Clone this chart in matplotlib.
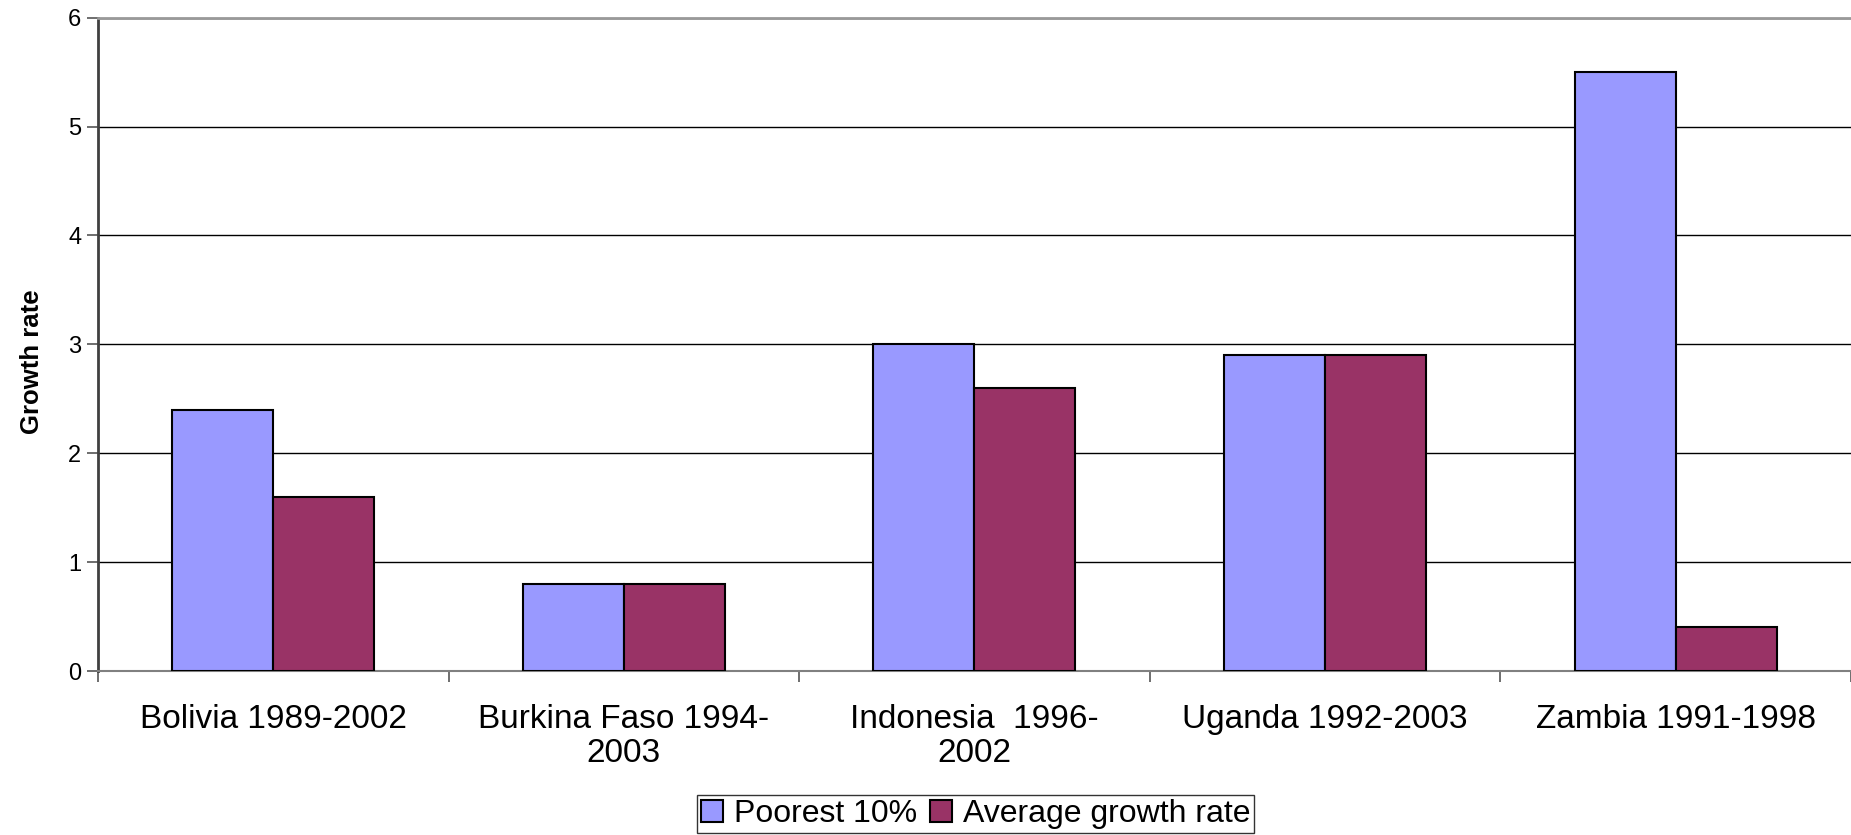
import matplotlib
matplotlib.use("Agg")
import matplotlib.pyplot as plt
import numpy as np

plt.rcParams['font.family'] = ['Liberation Sans', 'DejaVu Sans']

# data
categories = ["Bolivia 1989-2002", "Burkina Faso 1994-\n2003", "Indonesia  1996-\n2002",
              "Uganda 1992-2003", "Zambia 1991-1998"]
poorest = [2.4, 0.8, 3.0, 2.9, 5.5]
average = [1.6, 0.8, 2.6, 2.9, 0.4]
series_names = ["Poorest 10%", "Average growth rate"]
y_ticks = [0, 1, 2, 3, 4, 5, 6]

fig = plt.figure(figsize=(18.51, 8.35), dpi=100)
ax = fig.add_axes([0.0529, 0.1964, 0.9471, 0.7824])

x = np.arange(len(categories))
w = 0.288
ax.bar(x - w / 2, poorest, w, color='#9999FF', edgecolor='black', linewidth=1.5,
       label=series_names[0], zorder=3)
ax.bar(x + w / 2, average, w, color='#993366', edgecolor='black', linewidth=1.5,
       label=series_names[1], zorder=3)

ax.set_xlim(-0.5, len(categories) - 0.5)
ax.set_ylim(0, 6)
ax.set_yticks(y_ticks)
ax.set_yticklabels([str(t) for t in y_ticks], fontsize=17)
ax.set_ylabel('Growth rate', fontsize=18.5, fontweight='bold')
ax.yaxis.set_label_coords(-0.031, 0.473)

# category labels at the centres, tick marks at the boundaries
ax.set_xticks(x)
ax.set_xticklabels(categories, fontsize=24, linespacing=1.1)
ax.tick_params(axis='x', which='major', length=0, pad=24)
ax.set_xticks(np.arange(-0.5, len(categories), 1.0), minor=True)
ax.tick_params(axis='x', which='minor', length=8, width=1.2, color='#555555', direction='out')
ax.tick_params(axis='y', length=8, width=1.2, color='#555555', direction='out', pad=4)

ax.yaxis.grid(True, color='black', linewidth=1.0)
ax.set_axisbelow(True)

ax.spines['right'].set_visible(False)
ax.spines['top'].set_color('#999999')
ax.spines['top'].set_linewidth(2)
ax.spines['top'].set_zorder(4)
ax.spines['left'].set_color('#404040')
ax.spines['left'].set_linewidth(2)
ax.spines['bottom'].set_color('#808080')
ax.spines['bottom'].set_linewidth(1.5)

leg = fig.legend(loc='upper center', bbox_to_anchor=(0.527, 0.0479), ncol=2, fontsize=23,
                 frameon=True, fancybox=False, edgecolor='black', borderaxespad=0,
                 handlelength=0.69, handleheight=0.69, handletextpad=0.35,
                 columnspacing=0.4, borderpad=0.12)
leg.get_frame().set_linewidth(1.0)

fig.savefig('out.png', dpi=100, facecolor='white')
